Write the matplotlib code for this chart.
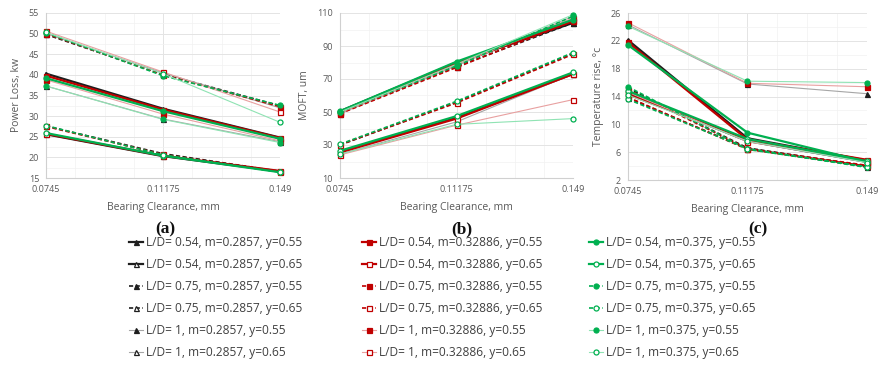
import matplotlib
matplotlib.use("Agg")
import matplotlib.pyplot as plt
from matplotlib.ticker import AutoMinorLocator

plt.rcParams['font.family'] = ['Open Sans', 'DejaVu Sans']

clearance = [0.0745, 0.11175, 0.149]
clearance_labels = ["0.0745", "0.11175", "0.149"]

m_values = ["0.2857", "0.32886", "0.375"]
ld_values = ["0.54", "0.75", "1"]
y_values = ["0.55", "0.65"]

# series order: m -> L/D -> y  (18 series per panel)
power_loss = [
    [40.3, 31.8, 24.8], [25.6, 20.3, 16.6],
    [49.8, 40.2, 32.5], [27.6, 20.9, 16.6],
    [37.3, 29.3, 23.8], [50.0, 40.5, 32.0],
    [39.8, 31.6, 24.7], [25.7, 20.4, 16.7],
    [50.0, 40.0, 32.3], [27.5, 20.7, 16.5],
    [38.8, 30.5, 24.0], [50.6, 40.7, 31.0],
    [39.2, 31.2, 24.5], [25.9, 20.4, 16.4],
    [50.2, 39.8, 32.6], [27.7, 20.6, 16.4],
    [37.3, 29.2, 23.6], [50.3, 40.3, 28.5],
]

moft = [
    [50.5, 80.0, 104.0], [26.0, 46.5, 73.0],
    [49.5, 77.5, 104.0], [30.0, 56.0, 85.5],
    [49.0, 78.0, 108.0], [24.5, 44.0, 73.0],
    [50.0, 79.5, 105.0], [25.5, 46.0, 73.0],
    [49.0, 77.0, 105.0], [30.2, 55.5, 85.0],
    [49.5, 78.5, 107.0], [24.0, 42.0, 57.5],
    [50.5, 80.5, 106.0], [26.5, 47.5, 74.0],
    [50.0, 78.0, 108.0], [30.5, 56.5, 86.0],
    [50.0, 79.0, 109.0], [24.5, 42.5, 46.0],
]

temp_rise = [
    [22.1, 8.0, 4.8], [14.5, 7.6, 4.6],
    [15.2, 6.6, 4.0], [13.8, 6.5, 3.9],
    [24.3, 15.8, 14.4], [14.8, 7.7, 4.7],
    [21.8, 7.8, 4.7], [14.3, 7.8, 4.9],
    [15.0, 6.5, 4.1], [13.9, 6.4, 4.0],
    [24.6, 15.9, 15.4], [14.6, 7.5, 4.6],
    [21.4, 8.8, 4.6], [14.8, 7.9, 4.7],
    [15.4, 6.4, 3.9], [13.6, 6.5, 3.8],
    [24.1, 16.2, 16.0], [14.2, 7.6, 4.5],
]

panel_titles = ["(a)", "(b)", "(c)"]
y_labels = ["Power Loss, kw", "MOFT, um", "Temperature rise, \u00b0c"]
y_limits = [(15, 55), (10, 110), (2, 26)]
y_steps = [5, 20, 4]

main_colors = ["#1e1e1e", "#c00000", "#00b050"]
light_colors = ["#a6a6a6", "#e8a0a0", "#8fe3b3"]
markers = ["^", "s", "o"]

fig = plt.figure(figsize=(8.79, 3.70), dpi=100)
axes_px = [(46, 280, 13, 178), (340, 573, 13, 178), (628, 867, 13, 180)]
W, H = 879.0, 370.0

handles = [[], [], []]
labels = [[], [], []]

for p, (data, ylab, ylim, step) in enumerate(zip([power_loss, moft, temp_rise],
                                                  y_labels, y_limits, y_steps)):
    x0, x1, yt, yb = axes_px[p]
    ax = fig.add_axes([x0 / W, 1 - yb / H, (x1 - x0) / W, (yb - yt) / H])
    k = 0
    for mi in range(3):
        for li in range(3):
            for yi in range(2):
                vals = data[k]
                k += 1
                if li == 0:
                    ls, lw, lc = "-", 1.6, main_colors[mi]
                elif li == 1:
                    ls, lw, lc = (0, (2.5, 1.5)), 1.2, main_colors[mi]
                else:
                    ls, lw, lc = "-", 0.8, light_colors[mi]
                mfc = main_colors[mi] if yi == 0 else "white"
                h, = ax.plot(clearance, vals, linestyle=ls, linewidth=lw, color=lc,
                             marker=markers[mi], markersize=3.6, markerfacecolor=mfc,
                             markeredgecolor=main_colors[mi], markeredgewidth=0.9,
                             clip_on=False, zorder=3)
                if p == 0:
                    handles[mi].append(h)
                    labels[mi].append("L/D= %s, m=%s, y=%s" % (ld_values[li], m_values[mi], y_values[yi]))
    ax.set_xlim(clearance[0], clearance[-1])
    ax.set_ylim(*ylim)
    ax.set_xticks(clearance)
    ax.set_xticklabels(clearance_labels)
    ax.set_yticks(range(ylim[0], ylim[1] + 1, step))
    ax.xaxis.set_minor_locator(AutoMinorLocator(4))
    ax.yaxis.set_minor_locator(AutoMinorLocator(2))
    ax.grid(True, which="major", color="#e4e4e4", linewidth=0.7)
    ax.grid(True, which="minor", color="#f2f2f2", linewidth=0.5)
    ax.set_axisbelow(True)
    for s in ["top", "right"]:
        ax.spines[s].set_visible(False)
    for s in ["left", "bottom"]:
        ax.spines[s].set_color("#d0d0d0")
        ax.spines[s].set_linewidth(0.8)
    ax.tick_params(which="both", length=0, labelsize=6.5, labelcolor="#595959", pad=5)
    ax.set_xlabel("Bearing Clearance, mm", fontsize=7.5, color="#595959", labelpad=6)
    ax.set_ylabel(ylab, fontsize=7.5, color="#595959", labelpad=5)

title_x = [165, 462, 758]
for t, xp in zip(panel_titles, title_x):
    fig.text(xp / W, 1 - 229 / H, t, family="Liberation Serif", fontweight="bold",
             fontsize=12.5, ha="center", va="center", color="#111111")

legend_x = [129, 362, 589]
for mi in range(3):
    leg = fig.legend(handles[mi], labels[mi], loc="upper left",
                     bbox_to_anchor=(legend_x[mi] / W, 1 - 236 / H),
                     frameon=False, fontsize=8.6, handlelength=1.2, handletextpad=0.2,
                     labelspacing=0.75, borderpad=0, borderaxespad=0)
    for txt in leg.get_texts():
        txt.set_color("#404040")

fig.savefig("out.png", dpi=100)
